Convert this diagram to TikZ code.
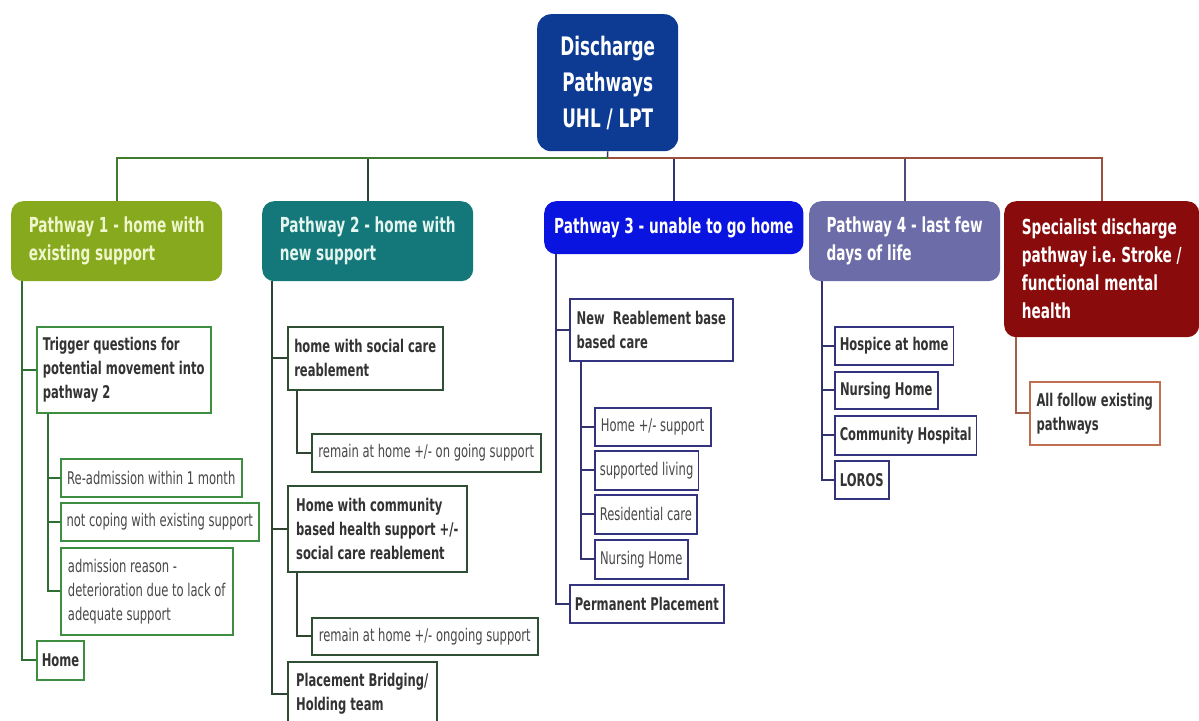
\documentclass[tikz,border=0pt]{standalone}
\usepackage{fontspec}
\setmainfont{DejaVu Sans}[FakeStretch=0.66]
\frenchspacing
\definecolor{rootc}{HTML}{0D3B93}
\definecolor{p1c}{HTML}{86A91E}
\definecolor{p1t}{HTML}{F0F6CC}
\definecolor{p2c}{HTML}{14787A}
\definecolor{p2t}{HTML}{E4F4EE}
\definecolor{p3c}{HTML}{0A14E0}
\definecolor{p4c}{HTML}{6C6CA8}
\definecolor{p5c}{HTML}{8A0B0B}
\definecolor{b1}{HTML}{3E8E41}
\definecolor{b2}{HTML}{2F4F35}
\definecolor{b3}{HTML}{33337F}
\definecolor{b5}{HTML}{C07050}
\definecolor{l1}{HTML}{2E6E30}
\definecolor{l2}{HTML}{2F4532}
\definecolor{l3}{HTML}{33336F}
\definecolor{l5}{HTML}{A0604A}
\definecolor{txt}{HTML}{333333}
\definecolor{txtn}{HTML}{484848}
\begin{document}
\begin{tikzpicture}[x=1pt,y=-1pt,
  rootbox/.style={anchor=north west, minimum width=141, minimum height=137, rounded corners=14pt, fill=rootc, text=white, font=\bfseries\fontsize{25.5}{36}\selectfont, align=center, inner sep=0pt},
  hdr/.style={anchor=north west, rounded corners=12pt, font=\bfseries\fontsize{20.7}{28}\selectfont, align=left, inner xsep=10pt, inner ysep=0pt},
  bx/.style={anchor=north west, draw, line width=1.5pt, fill=white, align=left, inner xsep=5pt, inner ysep=0pt, font=\fontsize{17.5}{24}\selectfont, text=txtn},
  bb/.style={bx, font=\bfseries\fontsize{17.5}{24}\selectfont, text=txt},
  lk/.style={line width=1.6pt},
]
\useasboundingbox (0,0) rectangle (1199,720);
\clip (0,0) rectangle (1199,720);
\fill[white] (0,0) rectangle (1199,720);

% root
\node[rootbox] (root) at (537,14) {Discharge\\Pathways\\UHL / LPT};

% pathway headers
\node[hdr, fill=p1c, text=p1t, minimum width=211, minimum height=80] (p1) at (11,201) {Pathway 1 - home with\\existing support};
\node[hdr, fill=p2c, text=p2t, minimum width=211, minimum height=80] (p2) at (262,201) {Pathway 2 - home with\\new support};
\node[hdr, fill=p3c, text=white, minimum width=259, minimum height=53, align=center] (p3) at (544,201) {Pathway 3 - unable to go home};
\node[hdr, fill=p4c, text=white, minimum width=191, minimum height=80] (p4) at (809,201) {Pathway 4 - last few\\days of life};
\node[hdr, fill=p5c, text=white, minimum width=195, minimum height=136] (p5) at (1004,201) {Specialist discharge\\pathway i.e. Stroke /\\functional mental\\health};

% bus
\coordinate (bus) at (607.5,158);
\draw[lk, draw=l3] (root.south) -- (bus);
\draw[lk, draw=l2] (bus) -| (p2.north);
\draw[lk, draw=l1!80!p1c] (bus) -| (p1.north);
\draw[lk, draw=l3] (bus) -| (p3.north);
\draw[lk, draw=p4c!70!black] (bus) -| (p4.north);
\draw[lk, draw=l5!80!p5c] (bus) -| (p5.north);

% pathway 1
\node[bb, draw=b1, minimum width=174, minimum height=86] (trig) at (36,326) {Trigger questions for\\potential movement into\\pathway 2};
\node[bx, draw=b1, minimum width=181, minimum height=38] (re) at (60,458) {Re-admission within 1 month};
\node[bx, draw=b1, minimum width=198, minimum height=38] (nc) at (60,502) {not coping with existing support};
\node[bx, draw=b1, minimum width=172, minimum height=87] (ad) at (60,547) {admission reason -\\deterioration due to lack of\\adequate support};
\node[bb, draw=b1, minimum width=46, minimum height=39] (home1) at (36,640) {Home};
\draw[lk, draw=l1] ([xshift=11pt]p1.south west) |- (trig.west);
\draw[lk, draw=l1] ([xshift=11pt]p1.south west) |- (home1.west);
\draw[lk, draw=l1] ([xshift=12pt]trig.south west) |- (re.west);
\draw[lk, draw=l1] ([xshift=12pt]trig.south west) |- (nc.west);
\draw[lk, draw=l1] ([xshift=12pt]trig.south west) |- (ad.west);

% pathway 2
\node[bb, draw=b2, minimum width=155, minimum height=63] (hs) at (287,326) {home with social care\\reablement};
\node[bx, draw=b2, minimum width=229, minimum height=38] (r1) at (311,433) {remain at home +/- on going support};
\node[bb, draw=b2, minimum width=179, minimum height=86] (hc) at (287,485) {Home with community\\based health support +/-\\social care reablement};
\node[bx, draw=b2, minimum width=226, minimum height=37] (r2) at (311,617) {remain at home +/- ongoing support};
\node[bb, draw=b2, minimum width=149, minimum height=64] (pb) at (287,661) {Placement Bridging/\\Holding team};
\draw[lk, draw=l2] ([xshift=10pt]p2.south west) |- (hs.west);
\draw[lk, draw=l2] ([xshift=10pt]p2.south west) |- (hc.west);
\draw[lk, draw=l2] ([xshift=10pt]p2.south west) |- (pb.west);
\draw[lk, draw=l2] ([xshift=10pt]hs.south west) |- (r1.west);
\draw[lk, draw=l2] ([xshift=10pt]hc.south west) |- (r2.west);

% pathway 3
\node[bb, draw=b3, minimum width=163, minimum height=62] (nr) at (569,298) {New\ \ Reablement base\\based care};
\node[bx, draw=b3, minimum width=116, minimum height=38] (h3) at (594,407) {Home +/- support};
\node[bx, draw=b3, minimum width=103, minimum height=39] (sl) at (594,450) {supported living};
\node[bx, draw=b3, minimum width=102, minimum height=39] (rc) at (594,494) {Residential care};
\node[bx, draw=b3, minimum width=93, minimum height=39] (nh3) at (594,539) {Nursing Home};
\node[bb, draw=b3, minimum width=153, minimum height=38] (pp) at (569,584) {Permanent Placement};
\draw[lk, draw=l3] ([xshift=12pt]p3.south west) |- (nr.west);
\draw[lk, draw=l3] ([xshift=12pt]p3.south west) |- (pp.west);
\draw[lk, draw=l3] ([xshift=12pt]nr.south west) |- (h3.west);
\draw[lk, draw=l3] ([xshift=12pt]nr.south west) |- (sl.west);
\draw[lk, draw=l3] ([xshift=12pt]nr.south west) |- (rc.west);
\draw[lk, draw=l3] ([xshift=12pt]nr.south west) |- (nh3.west);

% pathway 4
\node[bb, draw=b3, minimum width=118, minimum height=38] (ha) at (834,326) {Hospice at home};
\node[bb, draw=b3, minimum width=103, minimum height=37] (nh4) at (834,371) {Nursing Home};
\node[bb, draw=b3, minimum width=141, minimum height=39] (ch) at (834,415) {Community Hospital};
\node[bb, draw=b3, minimum width=54, minimum height=38] (lo) at (834,460) {LOROS};
\draw[lk, draw=l3] ([xshift=13pt]p4.south west) |- (ha.west);
\draw[lk, draw=l3] ([xshift=13pt]p4.south west) |- (nh4.west);
\draw[lk, draw=l3] ([xshift=13pt]p4.south west) |- (ch.west);
\draw[lk, draw=l3] ([xshift=13pt]p4.south west) |- (lo.west);

% specialist
\node[bb, draw=b5, minimum width=130, minimum height=63] (af) at (1029,381) {All follow existing\\pathways};
\draw[lk, draw=l5] ([xshift=12pt]p5.south west) |- (af.west);
\end{tikzpicture}
\end{document}
